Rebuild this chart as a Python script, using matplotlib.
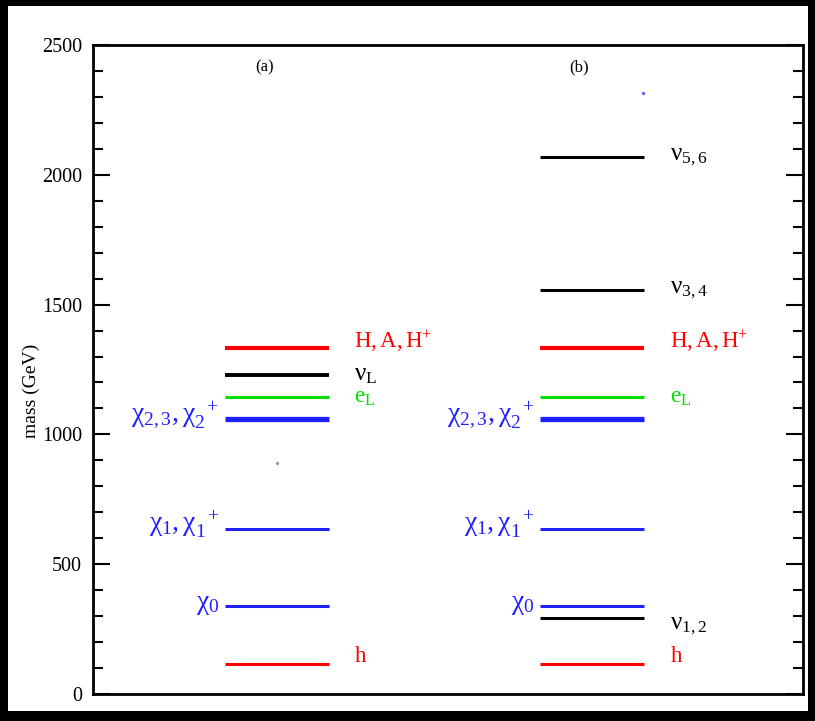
import matplotlib
matplotlib.use("Agg")
import matplotlib.pyplot as plt
from matplotlib.ticker import MultipleLocator

plt.rcParams["font.family"] = ["Liberation Serif", "DejaVu Serif"]
plt.rcParams["mathtext.fontset"] = "stix"

# Mass spectra (GeV) for the two scenarios
labels_a = ["H,A,H+", "nuL", "eL", "chi23", "chi1", "chi0", "h"]
masses_a = [1333, 1229, 1144, 1059, 636, 339, 116]
labels_b = ["nu56", "nu34", "H,A,H+", "eL", "chi23", "chi1", "chi0", "nu12", "h"]
masses_b = [2069, 1556, 1333, 1144, 1059, 636, 339, 293, 116]

# Stray points present in the plot
stray_x = [0.259, 0.775]
stray_m = [890, 2315]

BLUE = "#2020ff"
RED = "#ff0000"
GREEN = "#00e000"
BLACK = "#000000"

style = {
    "H,A,H+": dict(color=RED, lw=3.0, text=r"$\mathregular{H,A,H^{+}}$", side="right", dy=25, fs=16.5),
    "nuL": dict(color=BLACK, lw=2.8, text=r"$\mathregular{ν_{L}}$", side="right", dy=0, fs=18),
    "eL": dict(color=GREEN, lw=2.2, text=r"$\mathregular{e_{L}}$", side="right", dy=0, fs=17),
    "chi23": dict(color=BLUE, lw=3.8, text=r"$\mathregular{χ_{2,3}, χ_{2}^{\ \ +}}$", side="left", dy=18, fs=20),
    "chi1": dict(color=BLUE, lw=2.2, text=r"$\mathregular{χ_{1}, χ_{1}^{\ \ +}}$", side="left", dy=18, fs=20),
    "chi0": dict(color=BLUE, lw=2.2, text=r"$\mathregular{χ_{0}}$", side="left", dy=5, fs=20),
    "h": dict(color=RED, lw=2.2, text=r"$\mathregular{h}$", side="right", dy=30, fs=16.5),
    "nu56": dict(color=BLACK, lw=2.2, text=r"$\mathregular{ν_{5,6}}$", side="right", dy=0, fs=18),
    "nu34": dict(color=BLACK, lw=2.2, text=r"$\mathregular{ν_{3,4}}$", side="right", dy=0, fs=18),
    "nu12": dict(color=BLACK, lw=2.2, text=r"$\mathregular{ν_{1,2}}$", side="right", dy=-30, fs=18),
}

fig = plt.figure(figsize=(8.15, 7.21), dpi=100, facecolor="black")
bg = fig.add_axes([8 / 815, 10 / 721, 800 / 815, 705 / 721], zorder=0)
bg.set_facecolor("white")
bg.set_xticks([])
bg.set_yticks([])
for sp in bg.spines.values():
    sp.set_visible(False)

ax = fig.add_axes([93 / 815, 27 / 721, 710 / 815, 649 / 721], zorder=1)
ax.set_facecolor("white")


def draw_panel(labels, masses, x0, x1):
    for lab, m in zip(labels, masses):
        s = style[lab]
        ax.plot([x0, x1], [m, m], color=s["color"], lw=s["lw"],
                solid_capstyle="butt")
        if s["side"] == "right":
            ax.text(x1 + 0.036, m + s["dy"], s["text"], color=s["color"],
                    fontsize=s["fs"], ha="left", va="center")
        else:
            ax.text(x0 - 0.008, m + s["dy"], s["text"], color=s["color"],
                    fontsize=s["fs"], ha="right", va="center")


draw_panel(labels_a, masses_a, 0.186, 0.332)
draw_panel(labels_b, masses_b, 0.630, 0.776)

ax.scatter([stray_x[0]], [stray_m[0]], s=2, color="#999999", zorder=3)
ax.scatter([stray_x[1]], [stray_m[1]], s=2, color="#6060ff", zorder=3)

ax.text(0.242, 2415, "(a)", fontsize=12, ha="center", va="center")
ax.text(0.685, 2415, "(b)", fontsize=12, ha="center", va="center")

ax.set_xlim(0, 1)
ax.set_ylim(0, 2500)
ax.set_xticks([])
ax.yaxis.set_major_locator(MultipleLocator(500))
ax.yaxis.set_minor_locator(MultipleLocator(100))
ax.tick_params(axis="y", which="both", direction="in", left=True, right=True,
               labelsize=14.5, width=1.5)
ax.tick_params(axis="y", which="major", length=12, pad=8)
ax.tick_params(axis="y", which="minor", length=7)
for sp in ax.spines.values():
    sp.set_linewidth(2)
ax.set_ylabel("mass (GeV)", fontsize=14)
ax.yaxis.set_label_coords(-0.075, 0.467)

fig.savefig("out.png", dpi=100, facecolor="black")
